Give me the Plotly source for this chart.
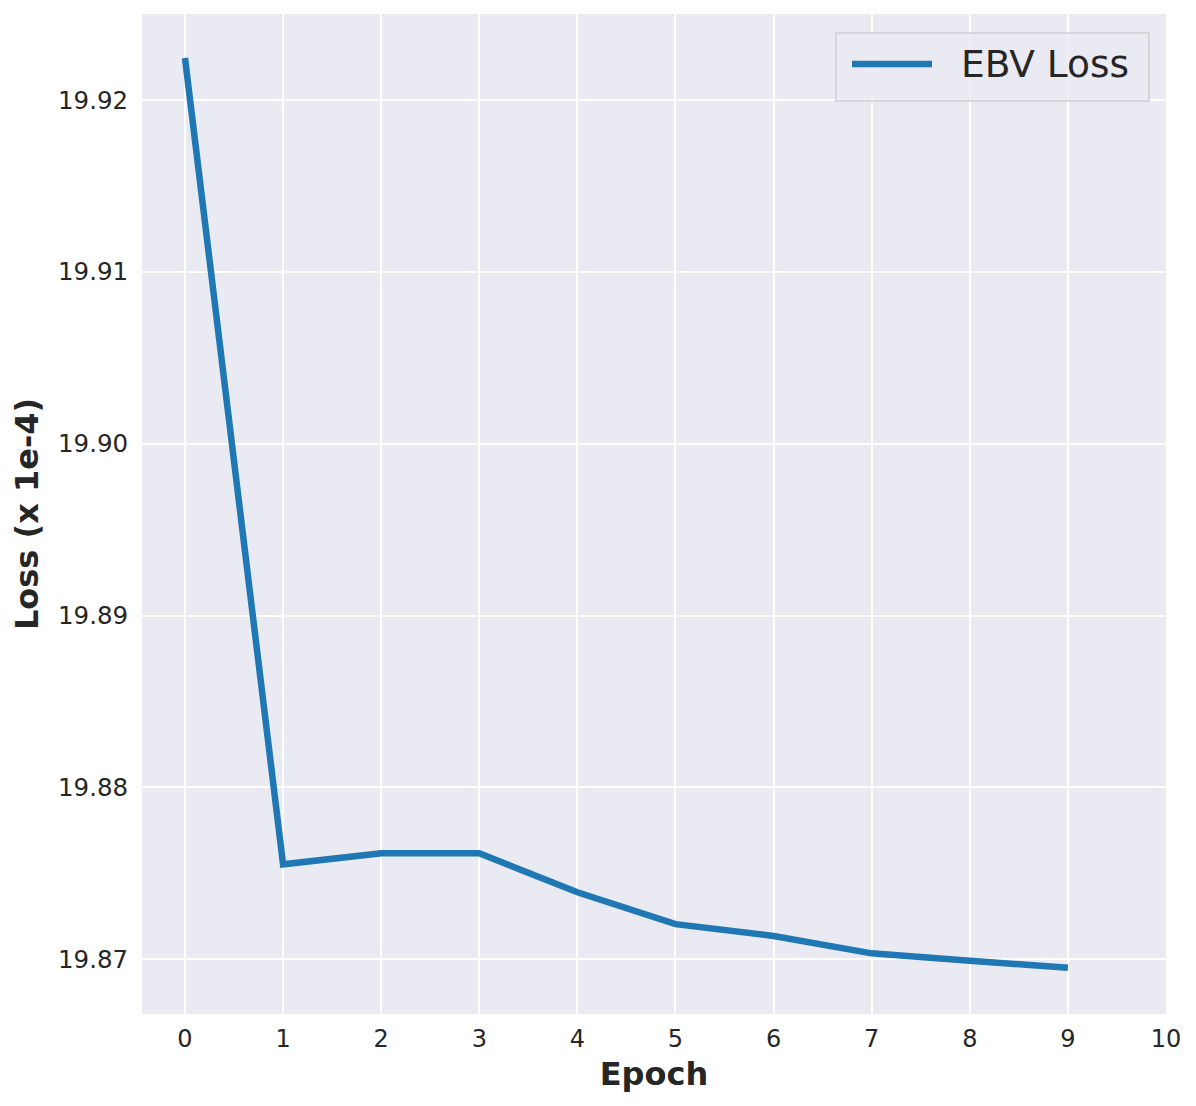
import plotly.graph_objects as go

epochs = [0, 1, 2, 3, 4, 5, 6, 7, 8, 9]
ebv_loss = [19.92244, 19.87553, 19.87617, 19.87617, 19.87390,
            19.87205, 19.87136, 19.87035, 19.86992, 19.86951]
x_ticks = list(range(0, 11))
y_ticks = [19.87, 19.88, 19.89, 19.90, 19.91, 19.92]
series_name = "EBV Loss"
line_color = "#1f77b4"

fig = go.Figure(go.Scatter(
    x=epochs, y=ebv_loss, mode="lines", name=series_name,
    line=dict(color=line_color, width=6.5), showlegend=False,
))

font = "DejaVu Sans, sans-serif"
text_color = "#262626"

# legend drawn by hand so the sample line is as long as in matplotlib
fig.add_shape(type="rect", xref="paper", yref="paper",
              x0=0.6777, x1=0.9834, y0=0.913, y1=0.981,
              fillcolor="rgba(234,234,242,0.8)", line=dict(color="#d0d0d0", width=1.5))
fig.add_shape(type="line", xref="paper", yref="paper",
              x0=0.6934, x1=0.7715, y0=0.950, y1=0.950,
              line=dict(color=line_color, width=6.5))
fig.add_annotation(text=series_name, xref="paper", yref="paper",
                   x=0.7975, y=0.950, xanchor="left", yanchor="middle",
                   showarrow=False, font=dict(size=37.5, color=text_color, family=font))

fig.update_layout(
    width=1196, height=1106,
    margin=dict(l=134, r=38, t=6, b=100),
    paper_bgcolor="white",
    plot_bgcolor="#EAEAF2",
    font=dict(family=font, color=text_color),
)
fig.update_xaxes(
    range=[-0.438, 10], tickvals=x_ticks,
    showgrid=True, gridcolor="white", gridwidth=1.8, zeroline=False,
    ticks="outside", ticklen=3, tickcolor="rgba(0,0,0,0)",
    tickfont=dict(size=24, color=text_color),
    title=dict(text="<b>Epoch</b>", font=dict(size=32, color=text_color), standoff=10),
    showline=False,
)
fig.update_yaxes(
    range=[19.86682, 19.92500], tickvals=y_ticks, tickformat=".2f",
    showgrid=True, gridcolor="white", gridwidth=1.8, zeroline=False,
    ticks="outside", ticklen=8, tickcolor="rgba(0,0,0,0)",
    tickfont=dict(size=24.5, color=text_color),
    title=dict(text="<b>Loss (x 1e-4)</b>", font=dict(size=32, color=text_color), standoff=14),
    showline=False,
)

fig.write_html("out.html")
